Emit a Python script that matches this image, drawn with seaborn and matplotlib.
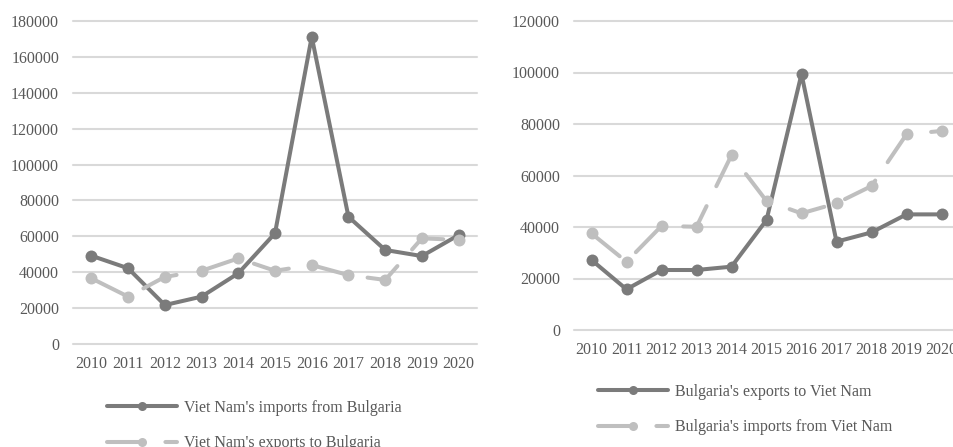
import matplotlib
matplotlib.use("Agg")
import matplotlib.pyplot as plt
from matplotlib.lines import Line2D
from matplotlib.ticker import FuncFormatter
import seaborn as sns
import pandas as pd

years = [2010, 2011, 2012, 2013, 2014, 2015, 2016, 2017, 2018, 2019, 2020]

vn_imports_from_bg = [49200, 42200, 21700, 26400, 39400, 61700, 171200, 70900, 52400, 49000, 60700]
vn_exports_to_bg = [36600, 26400, 37400, 40800, 47700, 40800, 44000, 38400, 35700, 58900, 58000]

bg_exports_to_vn = [27200, 15800, 23300, 23300, 24600, 42700, 99400, 34300, 37900, 44900, 44900]
bg_imports_from_vn = [37500, 26500, 40400, 40100, 67900, 50100, 45300, 49200, 55900, 76000, 77300]

left_names = ["Viet Nam's imports from Bulgaria", "Viet Nam's exports to Bulgaria"]
right_names = ["Bulgaria's exports to Viet Nam", "Bulgaria's imports from Viet Nam"]

left_ticks = [0, 20000, 40000, 60000, 80000, 100000, 120000, 140000, 160000, 180000]
right_ticks = [0, 20000, 40000, 60000, 80000, 100000, 120000]

DARK = "#7b7b7b"
LIGHT = "#bfbfbf"
TEXT = "#595959"
GRID = "#d9d9d9"
DASH = (9, 5.5)
FS = 11.5

sns.set_style("white")
plt.rcParams["font.family"] = ["Liberation Serif", "DejaVu Serif"]

fig = plt.figure(figsize=(9.54, 4.47), dpi=100)
ax1 = fig.add_axes([73 / 954, 103 / 447, 404 / 954, 323 / 447])
ax2 = fig.add_axes([574 / 954, 117 / 447, 385 / 954, 309 / 447])


def draw(ax, names, s1, s2, ticks, xpad):
    df = pd.DataFrame({
        "year": years * 2,
        "value": s1 + s2,
        "series": [names[0]] * len(years) + [names[1]] * len(years),
    })
    sns.lineplot(
        data=df, x="year", y="value", hue="series", style="series",
        hue_order=names, style_order=names,
        palette={names[0]: DARK, names[1]: LIGHT},
        dashes={names[0]: "", names[1]: DASH},
        markers={names[0]: "o", names[1]: "o"},
        linewidth=2.9, markersize=8.6, markeredgewidth=0,
        dash_capstyle="round", solid_capstyle="round",
        legend=False, ax=ax,
    )
    ax.set_xlim(2009.5, 2020.5)
    ax.set_xticks(years)
    ax.set_xticklabels([str(y) for y in years])
    ax.set_ylim(ticks[0], ticks[-1])
    ax.set_yticks(ticks)
    ax.yaxis.set_major_formatter(FuncFormatter(lambda v, p: f"{int(v)}"))
    ax.set_xlabel("")
    ax.set_ylabel("")
    for s in ax.spines.values():
        s.set_visible(False)
    ax.grid(axis="y", color=GRID, linewidth=1.5)
    ax.grid(axis="x", visible=False)
    ax.set_axisbelow(True)
    ax.tick_params(axis="both", length=0, labelsize=FS, labelcolor=TEXT)
    ax.tick_params(axis="y", pad=10)
    ax.tick_params(axis="x", pad=xpad)
    for gl in ax.get_ygridlines():
        gl.set_clip_on(False)


draw(ax1, left_names, vn_imports_from_bg, vn_exports_to_bg, left_ticks, 9.0)
draw(ax2, right_names, bg_exports_to_vn, bg_imports_from_vn, right_ticks, 9.0)


def handles():
    h1 = Line2D([], [], color=DARK, linewidth=2.9, marker="o", markersize=6.5,
                markeredgewidth=0, solid_capstyle="round")
    h2 = Line2D([], [], color=LIGHT, linewidth=2.9, marker="o", markersize=6.5,
                markeredgewidth=0, dashes=DASH, dash_capstyle="round")
    return [h1, h2]


leg_kw = dict(frameon=False, fontsize=FS, labelcolor=TEXT, handlelength=4.4,
              handletextpad=0.4, labelspacing=1.2, borderpad=0, borderaxespad=0,
              numpoints=1, loc="upper left")
fig.legend(handles(), left_names, bbox_to_anchor=(107 / 954, 1 - 400 / 447), **leg_kw)
fig.legend(handles(), right_names, bbox_to_anchor=(598 / 954, 1 - 384 / 447), **leg_kw)

fig.savefig("out.png", dpi=100)
